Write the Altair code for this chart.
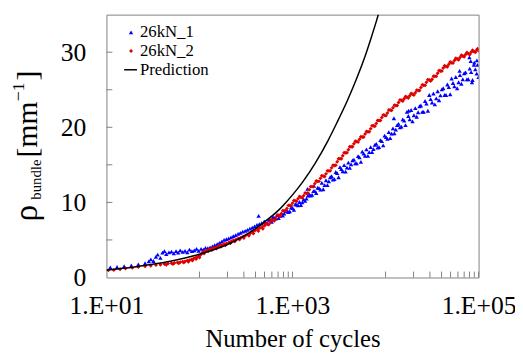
import altair as alt
import pandas as pd

# ---------------- data ----------------
series_names = ["26kN_1", "26kN_2", "Prediction"]

# prediction curve
pred_n = [10, 20, 30, 50, 70, 100, 150, 200, 300, 400, 500, 700, 850, 1000, 1300,
          1750, 2400, 3000, 3900, 5000, 6000, 7000, 8000, 8800]
pred_rho = [1.0, 1.4, 1.72, 2.2, 2.6, 3.1, 3.8, 4.4, 5.5, 6.5, 7.4, 8.9, 10.0, 11.0,
            12.8, 15.2, 18.2, 20.6, 23.6, 26.8, 29.4, 31.9, 34.2, 36.0]

# shared cycle positions in the dense part of the test records
n_dense = [501, 537, 575, 617, 661, 708, 759, 813, 871, 933,
           1000, 1072, 1148, 1230, 1318, 1413, 1514, 1622, 1738, 1862, 1995, 2138, 2291,
           2455, 2630, 2818, 3020, 3236, 3467, 3715, 3981, 4266, 4571, 4898, 5248, 5623,
           6026, 6457, 6918, 7413, 7943, 8511, 9120, 9772,
           10470, 11220, 12020, 12880, 13800, 14790, 15850, 16980, 18200, 19500, 20890,
           22390, 23990, 25700, 27540, 29510, 31620, 33880, 36310, 38900, 41690, 44670,
           47860, 51290, 54950, 58880, 63100, 67610, 72440, 77620, 83180, 89130, 95500,
           100000]
n_dense_half = [518, 556, 596, 638, 684, 733, 786, 842, 902, 966,
                1035, 1109, 1189, 1274, 1365, 1462, 1567, 1679, 1799, 1928, 2065, 2213,
                2371, 2541, 2722, 2917, 3126, 3350, 3589, 3846, 4121, 4416, 4732, 5070,
                5433, 5821, 6237, 6683, 7161, 7674, 8222, 8810, 9441,
                10116, 10839, 11614, 12445, 13335, 14288, 15310, 16405, 17579, 18836,
                20184, 21627, 23174, 24831, 26607, 28510, 30549, 32734, 35075, 37584,
                40272, 43152, 46238, 49545, 53088, 56885, 60954, 65313, 69984, 74989,
                80353, 86099, 92257, 97700]

# 26kN_2 (red)
red_n_low = [10.5, 12, 14, 16, 19, 22, 26, 30, 34, 38, 42, 44, 46, 50, 52, 54, 58, 60, 62,
             66, 68, 70, 74, 76, 78, 82, 84, 86, 90, 92, 94, 98, 100, 102, 106, 110, 112,
             115, 120, 124, 126, 132, 136, 140, 148, 152, 156, 165, 170, 175, 185, 190,
             196, 208, 215, 220, 233, 240, 247, 262, 270, 278, 295, 300, 313, 332, 340,
             352, 373, 380, 396, 420, 430, 445, 472, 480]
red_rho_low = [0.95, 1.0, 1.1, 1.2, 1.3, 1.4, 1.5, 1.55, 1.65, 1.7, 1.8, 1.7, 1.85, 1.9,
               1.8, 1.95, 2.0, 1.9, 2.05, 2.1, 2.0, 2.15, 2.25, 2.1, 2.3, 2.4, 2.25, 2.5,
               2.6, 2.45, 2.7, 2.8, 2.65, 3.0, 3.2, 3.4, 3.2, 3.5, 3.6, 3.5, 3.7, 3.8, 3.65,
               3.9, 4.0, 3.85, 4.1, 4.25, 4.1, 4.35, 4.45, 4.3, 4.55, 4.7, 4.55, 4.8, 4.95,
               4.8, 5.05, 5.2, 5.05, 5.3, 5.45, 5.25, 5.6, 5.75, 5.55, 5.9, 6.1, 5.85, 6.25,
               6.45, 6.2, 6.6, 6.75, 6.5]
red_rho_dense = [6.9, 7.1, 7.4, 7.6, 7.9, 8.3, 8.5, 8.9, 9.2, 9.6,
                 9.9, 10.2, 10.5, 10.7, 10.9, 11.2, 11.7, 12.1, 12.5, 12.8, 13.2, 13.5,
                 13.8, 14.2, 14.6, 14.9, 15.4, 15.8, 16.2, 16.6, 17.0, 17.4, 17.8, 18.1,
                 18.4, 18.7, 19.1, 19.4, 19.8, 20.2, 20.5, 20.9, 21.3, 21.6,
                 21.9, 22.3, 22.6, 22.9, 23.3, 23.6, 23.8, 24.0, 24.2, 24.4, 24.6, 24.9,
                 25.3, 25.6, 26.0, 26.3, 26.4, 26.8, 27.2, 27.5, 27.9, 28.1, 28.4, 28.6,
                 28.9, 29.1, 29.3, 29.5, 29.7, 29.8, 30.0, 30.1, 30.3, 30.2]
red_rho_half = [7.2, 7.05, 7.7, 7.55, 8.3, 8.2, 8.9, 8.85, 9.6, 9.55,
                10.25, 10.15, 10.8, 10.6, 11.25, 11.25, 12.1, 12.1, 12.85, 12.8,
                13.55, 13.45, 14.2, 14.2, 14.95, 14.95, 15.8, 15.8, 16.6, 16.6,
                17.4, 17.4, 18.15, 18.05, 18.75, 18.7, 19.45, 19.4, 20.2, 20.15,
                20.9, 20.9, 21.65, 21.55, 22.3, 22.25, 22.95, 22.9, 23.65, 23.5,
                24.1, 23.9, 24.5, 24.3, 24.95, 24.9, 25.65, 25.6, 26.35, 26.15,
                26.8, 26.8, 27.55, 27.5, 28.2, 28.05, 28.7, 28.55, 29.2, 29.0,
                29.6, 29.4, 29.95, 29.7, 30.25, 30.0, 30.45]

# 26kN_1 (blue)
blue_n_low = [11, 13, 15.5, 18.5, 22, 26, 28.5, 30, 32, 34, 35.5, 38, 40, 42, 44, 47, 50,
              53, 56, 59, 62, 66, 70, 74, 78, 83, 88, 93, 98, 104, 110, 116, 123, 130, 138,
              146, 155, 164, 174, 184, 195, 206, 218, 231, 245, 260, 275, 292, 310, 328,
              348, 369, 391, 415, 432, 440, 466, 494]
blue_rho_low = [1.35, 1.4, 1.5, 1.6, 1.75, 1.9, 2.15, 2.4, 2.2, 2.75, 3.05, 2.6, 3.3, 3.5,
                3.1, 3.35, 3.45, 3.2, 3.5, 3.3, 3.6, 3.4, 3.55, 3.35, 3.7, 3.5, 3.6, 3.8,
                3.55, 3.8, 3.7, 3.95, 3.9, 4.0, 4.15, 4.3, 4.45, 4.6, 4.8, 5.0, 5.1, 5.2,
                5.35, 5.5, 5.65, 5.8, 5.95, 6.1, 6.2, 6.35, 6.5, 6.65, 6.8, 7.0, 8.2, 7.1,
                7.25, 7.4]
blue_rho_dense = [7.45, 7.25, 7.65, 8.05, 7.85, 7.9, 8.55, 8.5, 8.9, 8.8,
                  9.25, 9.75, 9.6, 9.65, 10.4, 10.5, 11.05, 11.0, 11.5, 11.95,
                  11.7, 11.75, 12.95, 12.8, 13.5, 13.1, 13.9, 14.7, 14.15, 14.1,
                  15.3, 15.05, 15.7, 15.2, 16.0, 16.75, 16.2, 16.2, 17.35, 17.1,
                  17.8, 17.35, 18.15, 18.9, 18.45, 18.55, 19.85, 19.7, 20.45, 20.1,
                  20.9, 22.05, 21.05, 20.8, 22.55, 22.0, 22.9, 22.05, 23.15, 24.3,
                  23.3, 23.05, 24.8, 24.25, 25.2, 24.3, 25.35, 26.5, 25.45, 25.2,
                  26.95, 26.4, 27.3, 26.4, 27.35, 28.3, 27.15, 26.7]
blue_rho_half = [7.2, 7.7, 7.4, 7.95, 8.3, 8.2, 8.25, 8.8, 8.7, 9.3,
                 9.0, 9.7, 10.05, 10.0, 10.2, 10.9, 10.9, 11.5, 11.25, 11.9,
                 12.6, 12.3, 12.3, 13.35, 13.05, 14.05, 13.35, 14.45, 14.95, 14.65,
                 14.6, 15.6, 15.2, 16.15, 15.4, 16.5, 17.05, 16.7, 16.7, 17.65,
                 17.3, 18.3, 17.6, 18.7, 19.35, 19.15, 19.2, 20.3, 20.0, 21.05,
                 20.3, 21.5, 22.3, 21.6, 21.4, 22.8, 22.05, 23.5, 22.2, 23.75,
                 24.5, 23.85, 23.6, 25.05, 24.3, 25.7, 24.4, 25.9, 26.7, 26.0,
                 25.8, 27.2, 26.4, 27.8, 26.3, 27.7, 28.3]
blue_n_extra = [1450, 1700, 12300, 17700, 62500, 79700, 82300, 85000, 90000, 96000]
blue_rho_extra = [11.8, 12.2, 21.2, 22.2, 27.5, 29.3, 28.8, 26.0, 28.6, 28.9]

# axes
x_domain = [10, 100000]
y_domain = [0, 35]
x_label_values = [10, 1000, 100000]
x_label_texts = ["1.E+01", "1.E+03", "1.E+05"]
y_label_values = [0, 10, 20, 30]
x_minor_ticks = [100, 200, 300, 400, 500, 600, 700, 800, 900, 1000,
                 10000, 20000, 30000, 40000, 50000, 60000, 70000, 80000, 90000, 100000]
y_minor_ticks = [5, 10, 15, 20, 25, 30]

# ---------------- tables ----------------
df_red = pd.DataFrame({
    "N": red_n_low + n_dense + n_dense_half,
    "rho": red_rho_low + red_rho_dense + red_rho_half,
})
df_blue = pd.DataFrame({
    "N": blue_n_low + n_dense + n_dense_half + blue_n_extra,
    "rho": blue_rho_low + blue_rho_dense + blue_rho_half + blue_rho_extra,
})
df_pred = pd.DataFrame({"N": pred_n, "rho": pred_rho})
df_xt = pd.DataFrame({"N": x_minor_ticks})
df_yt = pd.DataFrame({"rho": y_minor_ticks})

W, H = 378, 267
FONT = "Liberation Serif"
GRAY = "#808080"
BLUE = "#0000ff"
RED = "#e00000"

label_expr = ("[" + ",".join("'%s'" % t for t in x_label_texts) + "][indexof(["
              + ",".join(str(v) for v in x_label_values) + "], datum.value)]")

xscale = alt.Scale(type="log", domain=x_domain, nice=False)
yscale = alt.Scale(domain=y_domain, nice=False)

x_enc = alt.X("N:Q", scale=xscale,
              axis=alt.Axis(values=x_label_values, labelExpr=label_expr,
                            labelFlush=False, labelOverlap=False,
                            title="Number of cycles", titleY=70,
                            titleBaseline="alphabetic"))
y_enc = alt.Y("rho:Q", scale=yscale,
              axis=alt.Axis(values=y_label_values, title="", labelFlush=False,
                            labelOverlap=False))

blue = alt.Chart(df_blue).mark_point(shape="triangle-up", filled=True, size=20,
                                     color=BLUE, opacity=1, clip=True).encode(x=x_enc, y=y_enc)
red = alt.Chart(df_red).mark_point(shape="diamond", filled=True, size=16,
                                   color=RED, opacity=1, clip=True).encode(x="N:Q", y="rho:Q")
pred = alt.Chart(df_pred).mark_line(color="black", strokeWidth=1.5, clip=True,
                                    interpolate="monotone").encode(x="N:Q", y="rho:Q")

xticks = alt.Chart(df_xt).mark_rule(color=GRAY, strokeWidth=1).encode(
    x="N:Q", y=alt.value(H), y2=alt.value(H - 6))
yticks = alt.Chart(df_yt).mark_rule(color=GRAY, strokeWidth=1).encode(
    y="rho:Q", x=alt.value(0), x2=alt.value(6))

one = alt.InlineData(values=[{"k": 1}])

# legend
leg_blue = alt.Chart(one).mark_point(shape="triangle-up", filled=True, size=20, color=BLUE,
                                     opacity=1).encode(x=alt.value(25), y=alt.value(18))
leg_red = alt.Chart(one).mark_point(shape="diamond", filled=True, size=16, color=RED,
                                    opacity=1).encode(x=alt.value(25), y=alt.value(37))
leg_line = alt.Chart(one).mark_rule(color="black", strokeWidth=1.5).encode(
    x=alt.value(18), x2=alt.value(31), y=alt.value(56))
leg_texts = [
    alt.Chart(one).mark_text(font=FONT, fontSize=17, align="left", baseline="alphabetic",
                             color="black").encode(x=alt.value(34), y=alt.value(yy),
                                                   text=alt.value(name))
    for name, yy in zip(series_names, [23, 42, 61])
]


# y-axis title: rho_bundle [mm^-1]
def ytxt(s, size, x, y):
    return alt.Chart(one).mark_text(font=FONT, fontSize=size, angle=270, align="left",
                                    baseline="alphabetic", color="black").encode(
        x=alt.value(x), y=alt.value(y), text=alt.value(s))


ytitle = [
    ytxt("ρ", 34, -71, 210),
    ytxt("bundle", 15, -66, 188),
    ytxt("[mm", 30, -71, 145),
    ytxt("−1", 18, -84, 88),
    ytxt("]", 30, -71, 67),
]

chart = alt.layer(
    blue, red, pred, xticks, yticks, leg_blue, leg_red, leg_line, *leg_texts, *ytitle
).properties(
    width=W, height=H,
    padding={"left": 100, "top": 4, "right": 37, "bottom": 77},
    autosize=alt.AutoSizeParams(type="none"),
    background="white",
).configure(
    font=FONT
).configure_view(
    stroke=GRAY, strokeWidth=1
).configure_axis(
    domain=False, ticks=False, grid=False,
    labelFont=FONT, titleFont=FONT, labelColor="black", titleColor="black",
    labelFontSize=26, titleFontSize=25, titleFontWeight="normal",
).configure_axisX(
    labelPadding=16
).configure_axisY(
    labelPadding=21
)

chart.save("out.html", embed_options={"renderer": "svg", "actions": False})
